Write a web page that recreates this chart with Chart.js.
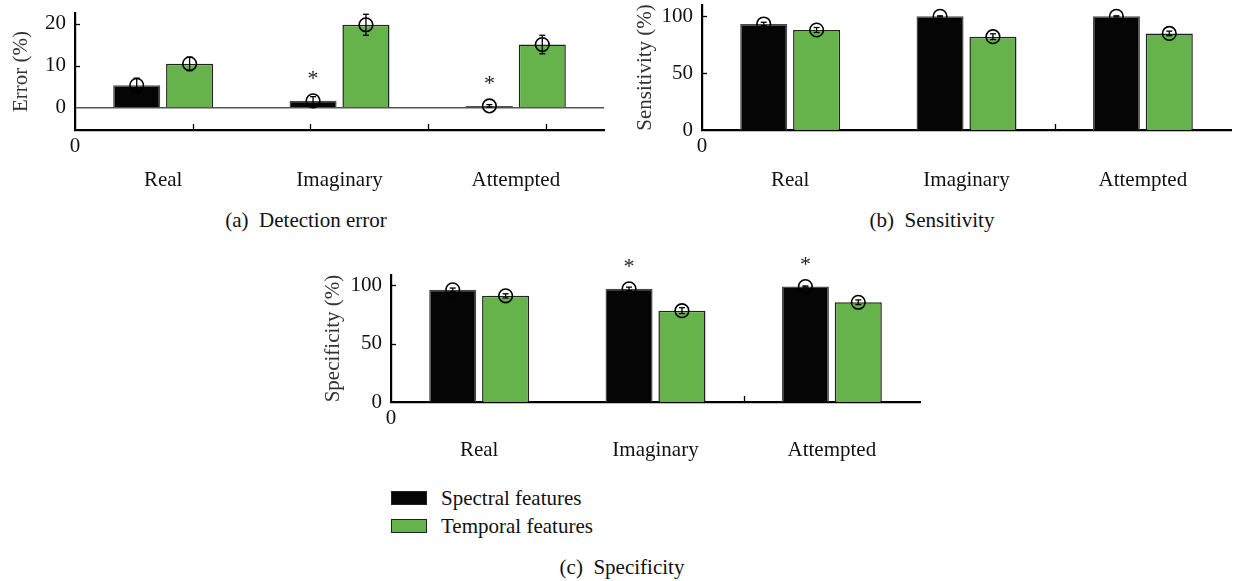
<!DOCTYPE html>
<html>
<head>
<meta charset="utf-8">
<script src="https://cdn.jsdelivr.net/npm/chart.js@4.4.1/dist/chart.umd.min.js"></script>
<style>
  html,body{margin:0;padding:0;background:#fff;}
  body{width:1233px;height:581px;position:relative;overflow:hidden;font-family:"Liberation Serif",serif;color:#111;}
  canvas{position:absolute;}
  .cap{position:absolute;font-size:21px;white-space:pre;transform:translateX(-50%);line-height:24px;}
  .leg{position:absolute;font-size:21px;line-height:24px;white-space:nowrap;}
  .box{position:absolute;width:36px;height:14px;box-sizing:border-box;border:1.5px solid #222;}
</style>
</head>
<body>
<canvas id="ca" width="615" height="200" style="left:0;top:0"></canvas>
<canvas id="cb" width="613" height="200" style="left:620px;top:0"></canvas>
<canvas id="cc" width="630" height="220" style="left:300px;top:250px"></canvas>
<div class="cap" style="left:306px;top:208px">(a)  Detection error</div>
<div class="cap" style="left:932px;top:208px">(b)  Sensitivity</div>
<div class="cap" style="left:622px;top:555px">(c)  Specificity</div>
<div id="legend"></div>
<script>
// ---- data ----
const categories = ['Real', 'Imaginary', 'Attempted'];
const seriesNames = ['Spectral features', 'Temporal features'];
const seriesColors = ['#050505', '#67b34b'];
const seriesBorders = ['#4a4a4a', '#222222'];

const errorSpectral = [5.4, 1.7, 0.5];
const errorSpectralSd = [1.7, 1.0, 0.3];
const errorTemporal = [10.5, 19.8, 15.1];
const errorTemporalSd = [1.6, 2.5, 2.2];
const errorSig = [false, true, true];

const sensSpectral = [93.3, 100, 100];
const sensSpectralSd = [1.5, 0.5, 0.5];
const sensTemporal = [88.0, 82.1, 85.0];
const sensTemporalSd = [2.2, 2.5, 2.0];
const sensSig = [false, false, false];

const specSpectral = [96.3, 97.1, 99.1];
const specSpectralSd = [1.5, 1.5, 0.5];
const specTemporal = [91.1, 78.4, 85.6];
const specTemporalSd = [1.8, 2.5, 2.0];
const specSig = [false, true, true];

const errorTicks = [0, 10, 20];
const pctTicks = [0, 50, 100];

// ---- helpers ----
Chart.defaults.font.family = '"Liberation Serif", serif';
Chart.defaults.font.size = 21;
Chart.defaults.color = '#111';

const overlay = {
  id: 'overlay',
  afterDatasetsDraw(chart, args, opts) {
    const {ctx, chartArea, scales: {x, y}} = chart;
    ctx.save();
    ctx.strokeStyle = '#000';
    ctx.lineWidth = 1.3;
    const line = (x1, y1, x2, y2) => { ctx.beginPath(); ctx.moveTo(x1, y1); ctx.lineTo(x2, y2); ctx.stroke(); };
    // inner y tick marks
    y.ticks.forEach(t => {
      if (t.value === 0) return;
      const py = Math.round(y.getPixelForValue(t.value)) + 0.5;
      line(chartArea.left, py, chartArea.left + 5, py);
    });
    // inner x tick marks
    (opts.xMarks || []).forEach(v => {
      const px = Math.round(x.getPixelForValue(v)) + 0.5;
      line(px, chartArea.bottom, px, chartArea.bottom - 6);
    });
    // error markers
    chart.data.datasets.forEach((ds, di) => {
      const meta = chart.getDatasetMeta(di);
      meta.data.forEach((bar, i) => {
        const v = ds.data[i], e = ds.sd[i];
        const cx = bar.x, cy = y.getPixelForValue(v);
        const top = y.getPixelForValue(v + e), bot = y.getPixelForValue(v - e);
        const r = 6.8;
        ctx.lineWidth = 1.6;
        ctx.beginPath(); ctx.arc(cx, cy, r, 0, Math.PI * 2); ctx.stroke();
        ctx.lineWidth = 1.3;
        line(cx, top, cx, bot);
        line(cx - 3, top, cx + 3, top);
        line(cx - 3, bot, cx + 3, bot);
        if (ds.sig && ds.sig[i]) {
          const ay = Math.min(top, cy - r) - 20;
          ctx.fillStyle = '#222';
          ctx.font = '22px "Liberation Serif", serif';
          ctx.textAlign = 'center';
          ctx.textBaseline = 'alphabetic';
          ctx.fillText('*', cx, ay + 11);
        }
      });
    });
    // origin "0"
    ctx.fillStyle = '#111';
    ctx.font = '21px "Liberation Serif", serif';
    ctx.textAlign = 'center';
    ctx.textBaseline = 'middle';
    ctx.fillText('0', chartArea.left, chartArea.bottom + 16);
    ctx.restore();
  }
};

function makeChart(id, cfg) {
  const datasets = cfg.values.map((vals, k) => ({
    label: seriesNames[k],
    data: vals,
    sd: cfg.sds[k],
    sig: k === 0 ? cfg.sig : null,
    backgroundColor: seriesColors[k],
    borderColor: seriesBorders[k],
    borderWidth: 1.5,
    categoryPercentage: 0.6,
    barPercentage: 0.89
  }));
  return new Chart(document.getElementById(id), {
    type: 'bar',
    data: {labels: categories, datasets},
    plugins: [overlay],
    options: {
      responsive: false,
      animation: false,
      devicePixelRatio: 1,
      layout: {padding: cfg.padding},
      plugins: {legend: {display: false}, tooltip: {enabled: false}, overlay: {xMarks: cfg.xMarks}},
      scales: {
        x: {
          grid: {display: false, drawTicks: false},
          border: {display: true, color: '#000', width: 2.2},
          ticks: {padding: cfg.xPad, color: '#111', font: {size: 21}},
          afterFit: s => { s.height = cfg.xHeight; s.paddingLeft = 0; s.paddingRight = 0; }
        },
        y: {
          min: cfg.min, max: cfg.max,
          afterBuildTicks: s => { s.ticks = cfg.ticks.map(v => ({value: v})); },
          grid: {
            display: cfg.zeroLine, drawTicks: false,
            color: c => (c.tick && c.tick.value === 0) ? '#555' : 'rgba(0,0,0,0)',
            lineWidth: 1.6
          },
          border: {display: true, color: '#000', width: 2.2},
          ticks: {padding: 9, color: '#111', font: {size: 21}},
          title: {display: true, text: cfg.title, color: '#333', font: {size: 21}, padding: {top: cfg.titlePad, bottom: 0}},
          afterFit: s => { s.width = cfg.yWidth; s.paddingTop = 0; s.paddingBottom = 0; }
        }
      }
    }
  });
}

makeChart('ca', {
  values: [errorSpectral, errorTemporal], sds: [errorSpectralSd, errorTemporalSd], sig: errorSig,
  min: -5.24, max: 22.6, ticks: errorTicks, title: 'Error (%)', titlePad: 9, zeroLine: true,
  padding: {left: 0, top: 13, right: 11, bottom: 0}, yWidth: 75, xHeight: 70, xPad: 38,
  xMarks: [0.17, 0.83, 1.5, 2.17]
});
makeChart('cb', {
  values: [sensSpectral, sensTemporal], sds: [sensSpectralSd, sensTemporalSd], sig: sensSig,
  min: 0, max: 110, ticks: pctTicks, title: 'Sensitivity (%)', titlePad: 13, zeroLine: false,
  padding: {left: 0, top: 5, right: 2, bottom: 0}, yWidth: 82, xHeight: 70, xPad: 38,
  xMarks: [1.5]
});
makeChart('cc', {
  values: [specSpectral, specTemporal], sds: [specSpectralSd, specTemporalSd], sig: specSig,
  min: 0, max: 109, ticks: pctTicks, title: 'Specificity (%)', titlePad: 21, zeroLine: false,
  padding: {left: 0, top: 25, right: 10, bottom: 0}, yWidth: 91, xHeight: 68, xPad: 36,
  xMarks: [1.5]
});

// legend (HTML, built from series arrays)
const leg = document.getElementById('legend');
seriesNames.forEach((name, k) => {
  const top = 491 + k * 28;
  const b = document.createElement('div');
  b.className = 'box';
  b.style.left = '391px'; b.style.top = top + 'px';
  b.style.background = seriesColors[k];
  leg.appendChild(b);
  const t = document.createElement('div');
  t.className = 'leg';
  t.style.left = '441px'; t.style.top = (top - 5) + 'px';
  t.textContent = name;
  leg.appendChild(t);
});
</script>
</body>
</html>
